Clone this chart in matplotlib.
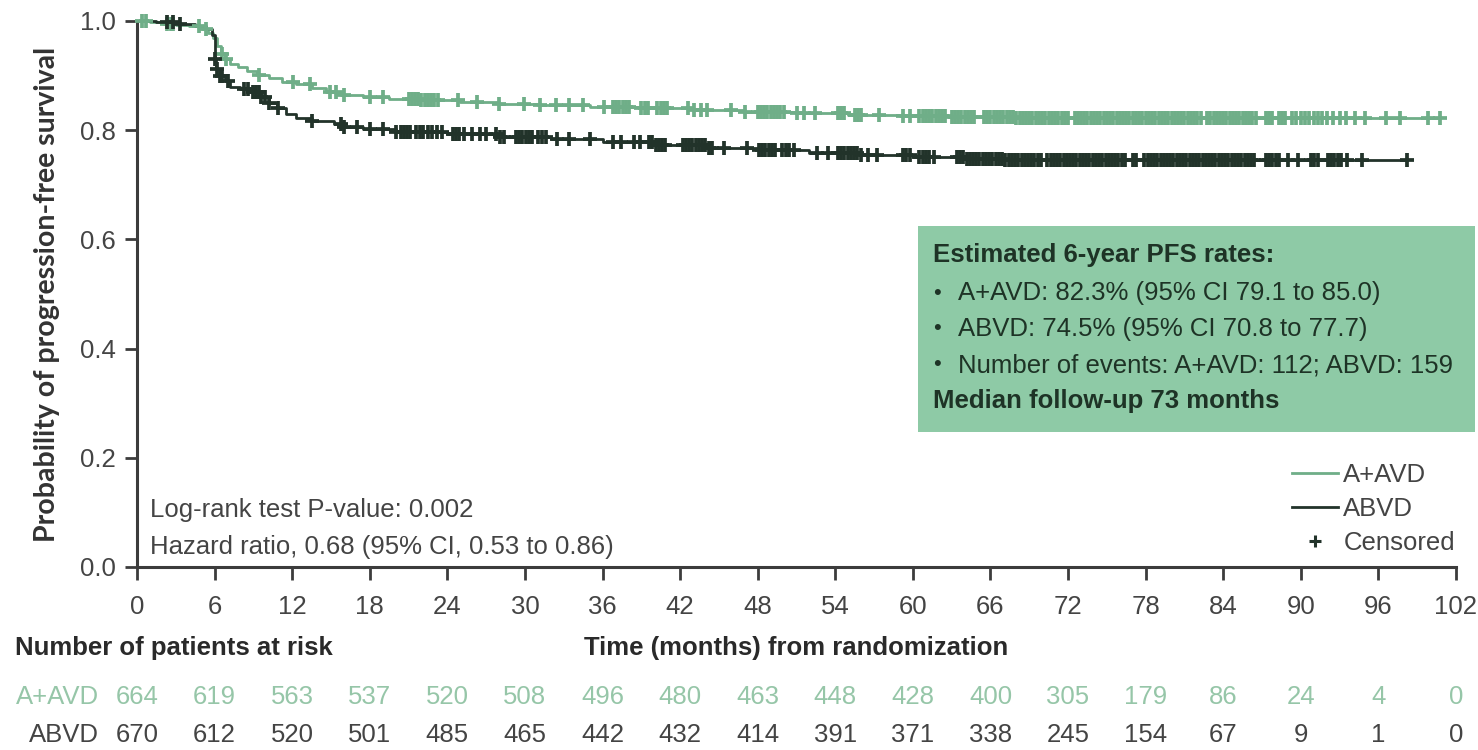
import numpy as np
import matplotlib
matplotlib.use("Agg")
import matplotlib.pyplot as plt
from matplotlib.lines import Line2D
from matplotlib.patches import Rectangle
from matplotlib.transforms import blended_transform_factory

# ---------------- data ----------------
aavd_t = [0, 1.0, 2.0, 3.0, 4.0, 5.0, 5.5, 5.9, 6.2, 6.5, 6.8, 7.2, 7.8, 8.5, 9.3,
          10.2, 11.2, 12.3, 13.5, 14.6, 15.8, 17.5, 19.5, 22, 25, 28, 31, 35, 39,
          43, 47, 51, 55, 59, 63, 68]
aavd_s = [1.0, 0.998, 0.995, 0.993, 0.990, 0.985, 0.978, 0.968, 0.955, 0.940, 0.930,
          0.922, 0.915, 0.908, 0.901, 0.895, 0.889, 0.884, 0.877, 0.870, 0.865, 0.861,
          0.858, 0.855, 0.851, 0.848, 0.846, 0.843, 0.840, 0.837, 0.834, 0.831, 0.828,
          0.826, 0.824, 0.823]
aavd_cens = [0.4, 0.7, 2.3, 2.6, 2.8, 4.8, 5.3, 6.6, 6.9, 9.4, 12.1, 13.4, 14.9, 15.4,
             16.0, 18.0, 19.0,
             21.0, 21.25, 21.5, 21.75, 22.0, 22.25, 22.5, 22.75, 23.0, 23.25,
             24.8, 26.3, 28.0, 29.9, 31.2, 32.4, 33.4, 34.5, 36.1,
             36.8, 37.05, 37.3, 37.55, 37.8, 38.05,
             39.0, 39.25, 39.5, 40.25, 40.5, 40.75, 41.0,
             42.6, 43.1, 43.6, 44.1, 45.9, 47.0,
             48.0, 48.25, 48.5, 48.75, 49.0, 49.25, 49.5, 49.75, 50.0,
             51.0, 51.6, 52.4,
             54.2, 54.45, 54.7, 55.5, 55.75, 56.0, 57.4, 59.2, 59.8,
             60.5, 60.75, 61.0, 61.25, 61.5, 61.75, 62.0, 62.25, 62.5,
             63.0, 63.25, 63.5, 63.75, 64.0, 64.25, 64.5, 64.75,
             65.5, 65.75, 66.0, 66.25, 66.5, 66.75,
             67.0, 67.25, 67.5, 67.75, 68.0, 68.25, 68.5, 68.75, 69.0, 69.25, 69.5,
             69.75, 70.0, 70.25, 70.5, 70.75, 71.0, 71.25, 71.5, 71.75, 72.0,
             72.5, 72.75, 73.0, 73.25, 73.5, 73.75, 74.0, 74.25, 74.5, 74.75, 75.0,
             75.25, 75.5, 75.75, 76.0, 76.25, 76.5, 76.75, 77.0, 77.25, 77.5, 77.75,
             78.0, 78.25, 78.5, 78.75, 79.0, 79.25, 79.5, 79.75, 80.0, 80.25, 80.5,
             80.75, 81.0, 81.25, 81.5, 81.75, 82.0, 82.25,
             82.75, 83.0, 83.25, 83.5, 83.75, 84.0, 84.25, 84.5, 84.75, 85.0, 85.25,
             85.5, 85.75, 86.0, 86.25, 86.5,
             87.3, 87.55, 87.8, 88.3, 88.55, 88.8, 89.3, 89.6, 90.0, 90.3, 90.6, 91.0,
             91.3, 91.6, 92.0, 92.5, 93.0, 93.5, 94.2, 95.0, 96.6, 97.7, 99.8, 100.8]

abvd_t = [0, 1.5, 3.0, 4.5, 5.3, 5.8, 6.0, 6.1, 6.4, 6.8, 7.2, 8.0, 9.0, 9.6, 10.2,
          10.8, 11.5, 12.3, 13.5, 15.2, 16.0, 17.5, 20, 24, 28, 32, 36, 40, 44, 48,
          52, 56, 60, 64, 67]
abvd_s = [1.0, 0.998, 0.995, 0.990, 0.985, 0.975, 0.930, 0.912, 0.900, 0.890, 0.880,
          0.876, 0.870, 0.860, 0.850, 0.840, 0.830, 0.822, 0.816, 0.812, 0.806, 0.802,
          0.797, 0.793, 0.788, 0.784, 0.778, 0.773, 0.768, 0.763, 0.759, 0.755, 0.751,
          0.748, 0.745]
abvd_cens = [2.3, 2.8, 3.3, 6.0, 6.2, 6.4, 6.6, 7.0, 8.3, 8.6, 9.0, 9.2, 9.4, 9.6, 9.9,
             10.2, 10.9, 13.5, 15.8, 16.0, 17.0, 18.0, 19.0, 20.0,
             20.4, 20.65, 20.9, 21.15, 21.6, 21.85, 22.1, 22.5, 22.8, 23.2, 23.6,
             24.4, 24.65, 24.9, 25.3, 25.9, 26.5, 27.0, 27.8, 28.1, 28.4,
             29.3, 29.55, 29.8, 30.05, 30.3, 30.55, 31.0, 31.3, 31.6, 32.5, 33.4, 35.0,
             36.8, 37.4, 38.4, 38.9, 39.6, 39.85, 40.1, 40.35, 40.6, 40.85,
             42.2, 42.45, 42.7, 42.95, 43.2, 43.45, 43.7, 43.95, 44.2, 44.5, 45.4, 47.2,
             48.1, 48.35, 48.6, 48.85, 49.1, 49.35, 49.9, 50.15, 50.4, 50.8, 52.6,
             53.4, 54.2, 54.45, 54.7, 54.95, 55.2, 55.45, 55.7, 56.0, 56.5, 57.2,
             59.2, 59.5, 59.8, 60.5, 60.75, 61.0, 61.25, 61.6,
             63.4, 63.65, 63.9, 64.15, 64.4, 64.65, 64.9, 65.15, 65.4, 65.65, 65.9,
             66.15, 66.4, 66.65, 66.9, 67.15, 67.4, 67.65, 67.9, 68.15, 68.4, 68.65,
             68.9, 69.15, 69.4, 69.65, 69.9,
             70.4, 70.65, 70.9, 71.15, 71.4, 71.65, 71.9, 72.15, 72.4, 72.65, 72.9,
             73.15, 73.4, 73.65, 73.9, 74.15, 74.4, 74.65, 74.9, 75.15, 75.4, 75.65,
             75.9, 76.15, 76.4, 77.0, 77.25,
             77.9, 78.15, 78.4, 78.65, 78.9, 79.15, 79.4, 79.65, 79.9, 80.15, 80.4,
             80.65, 80.9, 81.15, 81.4, 81.65, 81.9, 82.15, 82.4, 82.65, 82.9, 83.15,
             83.4, 83.65, 83.9, 84.15, 84.4, 84.65, 84.9, 85.15, 85.4, 85.65, 85.9,
             86.15, 86.4,
             87.3, 87.55, 87.8, 88.05, 88.3, 89.0, 89.8, 90.8, 91.05, 91.3, 92.1,
             92.35, 92.6, 92.85, 93.1, 93.6, 94.7, 98.2]

months = [0, 6, 12, 18, 24, 30, 36, 42, 48, 54, 60, 66, 72, 78, 84, 90, 96, 102]
aavd_risk = [664, 619, 563, 537, 520, 508, 496, 480, 463, 448, 428, 400, 305, 179, 86, 24, 4, 0]
abvd_risk = [670, 612, 520, 501, 485, 465, 442, 432, 414, 391, 371, 338, 245, 154, 67, 9, 1, 0]
yticks = [0.0, 0.2, 0.4, 0.6, 0.8, 1.0]

# ---------------- style ----------------
GREEN = "#6fae88"
GREEN_TXT = "#96c6a8"
DARK = "#22332a"
AXC = "#3c3c3c"
TXT = "#444444"
BOXC = "#8ecaa6"
BOXT = "#1e3326"
FS = 18.5

plt.rcParams["font.family"] = ["Liberation Sans", "DejaVu Sans"]

fig = plt.figure(figsize=(14.78, 7.5), dpi=100)
L, R, T, B = 137, 1456, 21, 567
W, H = 1478, 750
ax = fig.add_axes([L / W, 1 - B / H, (R - L) / W, (B - T) / H])
ax.set_xlim(0, 102)
ax.set_ylim(0, 1.0)


def km_curve(ax, t, s, cens, color):
    t = np.asarray(t, float)
    s = np.asarray(s, float)
    c = np.asarray(cens, float)
    end = max(c.max(), t.max())
    tt = np.append(t, end)
    ss = np.append(s, s[-1])
    ax.step(tt, ss, where="post", color=color, lw=2.0, clip_on=False, zorder=3)
    idx = np.searchsorted(t, c, side="right") - 1
    ax.plot(c, s[idx], ls="none", marker="+", ms=10, mew=2.7, color=color,
            clip_on=False, zorder=4)


km_curve(ax, aavd_t, aavd_s, aavd_cens, GREEN)
km_curve(ax, abvd_t, abvd_s, abvd_cens, DARK)

for sp in ["top", "right"]:
    ax.spines[sp].set_visible(False)
for sp in ["left", "bottom"]:
    ax.spines[sp].set_color(AXC)
    ax.spines[sp].set_linewidth(2.2)

ax.set_xticks(months)
ax.set_xticklabels([str(m) for m in months])
ax.set_yticks(yticks)
ax.set_yticklabels([f"{v:.1f}" for v in yticks])
ax.tick_params(axis="both", direction="out", length=9, width=2, color=AXC,
               labelcolor=TXT, labelsize=FS)
ax.tick_params(axis="x", pad=11)
ax.tick_params(axis="y", pad=6)

# y label
ax.text(-0.068, 0.5, "Probability of progression-free survival", rotation=90,
        ha="center", va="center", transform=ax.transAxes, fontsize=20.5,
        fontweight="bold", color="#333333", family=["Lato", "DejaVu Sans"])

# x label
ax.text(0.5, (B - 648) / (B - T), "Time (months) from randomization",
        transform=ax.transAxes, ha="center", va="center", fontsize=FS,
        fontweight="bold", color="#2a2a2a")

fig.text(15 / W, 1 - 648 / H, "Number of patients at risk", ha="left", va="center",
         fontsize=FS, fontweight="bold", color="#2a2a2a")

# at-risk table
tr = blended_transform_factory(ax.transData, fig.transFigure)
for m, a, b in zip(months, aavd_risk, abvd_risk):
    ax.text(m, 1 - 697 / H, str(a), transform=tr, ha="center", va="center",
            fontsize=FS, color=GREEN_TXT, clip_on=False)
    ax.text(m, 1 - 735 / H, str(b), transform=tr, ha="center", va="center",
            fontsize=FS, color=TXT, clip_on=False)
fig.text(99 / W, 1 - 697 / H, "A+AVD", ha="right", va="center", fontsize=FS,
         color=GREEN_TXT)
fig.text(99 / W, 1 - 735 / H, "ABVD", ha="right", va="center", fontsize=FS,
         color=TXT)

# statistics text
ax.text(1.0, (B - 510) / (B - T), "Log-rank test P-value: 0.002", ha="left",
        va="center", fontsize=FS, color=TXT)
ax.text(1.0, (B - 547) / (B - T), "Hazard ratio, 0.68 (95% CI, 0.53 to 0.86)",
        ha="left", va="center", fontsize=FS, color=TXT)

# green box
fig.patches.append(Rectangle((918 / W, 1 - 432 / H), (1475 - 918) / W, (432 - 226) / H,
                             transform=fig.transFigure, facecolor=BOXC,
                             edgecolor="none", zorder=1))
fig.text(933 / W, 1 - 255 / H, "Estimated 6-year PFS rates:", ha="left", va="center",
         fontsize=FS, fontweight="bold", color=BOXT)
bullets = ["A+AVD: 82.3% (95% CI 79.1 to 85.0)",
           "ABVD: 74.5% (95% CI 70.8 to 77.7)",
           "Number of events: A+AVD: 112; ABVD: 159"]
for yy, txt in zip([293, 329, 365], bullets):
    fig.text(933 / W, 1 - yy / H, "\u2022", ha="left", va="center", fontsize=16,
             color=BOXT)
    fig.text(958 / W, 1 - yy / H, txt, ha="left", va="center", fontsize=FS,
             color=BOXT)
fig.text(933 / W, 1 - 401 / H, "Median follow-up 73 months", ha="left", va="center",
         fontsize=FS, fontweight="bold", color=BOXT)

# legend
handles = [Line2D([], [], color=GREEN, lw=2),
           Line2D([], [], color=DARK, lw=2),
           Line2D([], [], color=DARK, ls="none", marker="+", ms=8, mew=2.2)]
leg = fig.legend(handles, ["A+AVD", "ABVD", "Censored"], loc="upper left",
                 bbox_to_anchor=(1292 / W, 1 - 463 / H), frameon=False, fontsize=FS,
                 handlelength=1.8, handletextpad=0.2, labelspacing=0.38,
                 borderpad=0, borderaxespad=0)
for t in leg.get_texts():
    t.set_color(TXT)

fig.savefig("out.png", dpi=100)
